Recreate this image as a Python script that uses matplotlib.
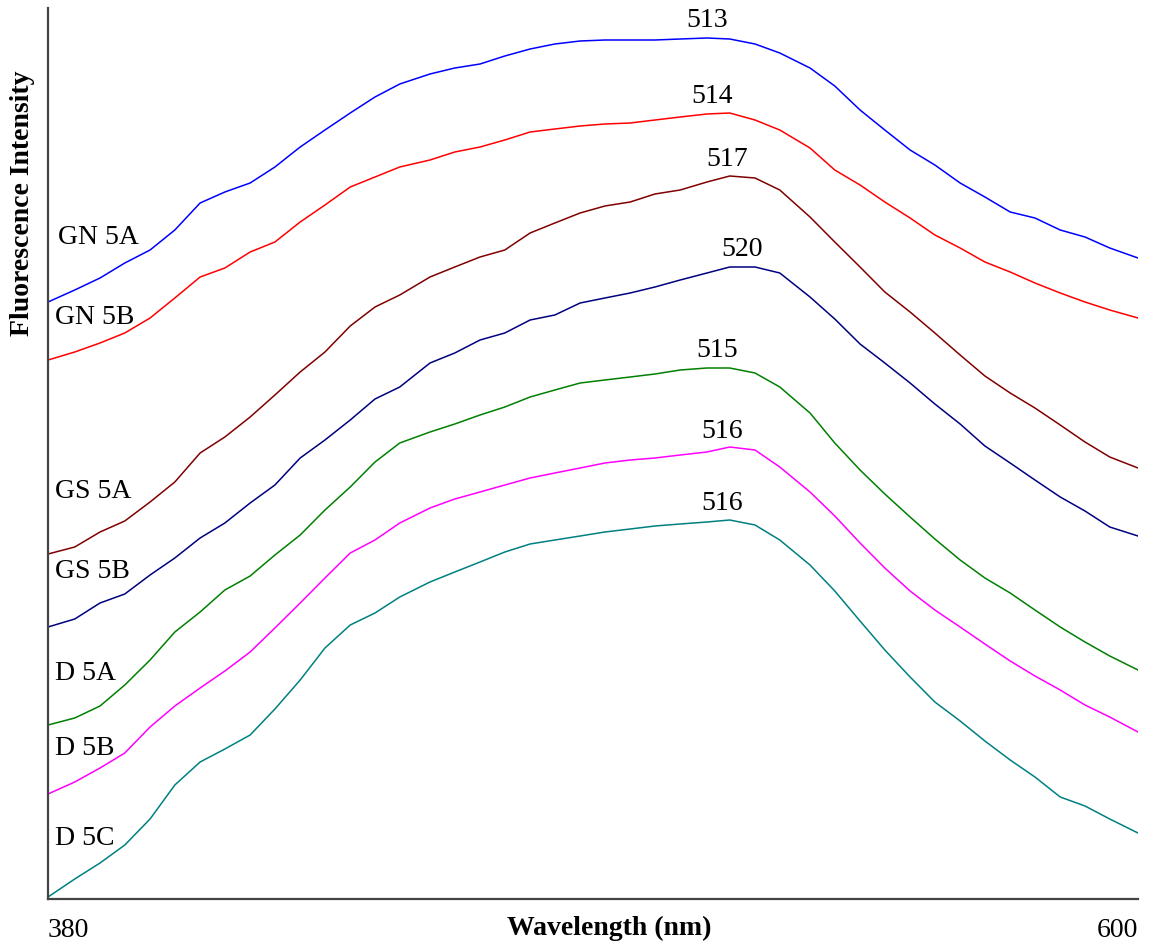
import numpy as np
import matplotlib
matplotlib.use("Agg")
import matplotlib.pyplot as plt
import matplotlib.transforms as mtransforms

plt.rcParams['font.family'] = ['Liberation Serif', 'DejaVu Serif']

# Wavelength grid (nm)
wavelength = [380.0, 385.4, 390.5, 395.5, 400.6, 405.6, 410.7, 415.7, 420.8, 425.8,
              430.9, 435.9, 441.0, 446.0, 451.0, 457.1, 462.1, 467.2, 472.2, 477.3,
              482.3, 487.4, 492.4, 497.5, 502.5, 507.6, 513.0, 517.6, 522.7, 527.7,
              533.8, 538.8, 543.9, 548.9, 554.0, 559.0, 564.1, 569.1, 574.2, 579.2,
              584.3, 589.3, 594.3, 600.0]

# Fluorescence intensity (arbitrary units, offset spectra)
gn5a = [596, 608, 620, 635, 648, 668, 695, 706, 715, 731,
        751, 768, 785, 801, 814, 824, 830, 834, 842, 849,
        854, 857, 858, 858, 858, 859, 860, 859, 854, 845,
        830, 812, 788, 768, 748, 733, 715, 701, 686, 680,
        668, 661, 650, 640]
gn5b = [538, 546, 555, 565, 580, 600, 621, 630, 646, 656,
        676, 693, 711, 721, 731, 738, 746, 751, 758, 766,
        769, 772, 774, 775, 778, 781, 784, 785, 778, 768,
        750, 728, 713, 696, 680, 663, 650, 636, 626, 615,
        605, 596, 588, 580]
gs5a = [344, 351, 366, 377, 396, 416, 445, 461, 481, 503,
        526, 546, 572, 591, 603, 621, 631, 641, 648, 665,
        675, 685, 692, 696, 704, 708, 716, 722, 720, 708,
        681, 656, 631, 606, 586, 565, 543, 522, 505, 490,
        473, 456, 441, 430]
gs5b = [271, 279, 295, 304, 323, 340, 360, 375, 395, 413,
        440, 458, 478, 499, 511, 535, 545, 558, 565, 578,
        583, 595, 600, 605, 611, 618, 625, 631, 631, 625,
        601, 579, 554, 535, 515, 494, 474, 452, 435, 418,
        401, 387, 371, 362]
d5a = [173, 180, 192, 213, 238, 266, 286, 308, 322, 343,
       363, 388, 411, 436, 455, 466, 474, 483, 491, 501,
       508, 515, 518, 521, 524, 528, 530, 530, 525, 511,
       485, 455, 428, 404, 381, 359, 338, 320, 305, 288,
       271, 256, 242, 228]
d5b = [104, 116, 130, 145, 171, 192, 210, 227, 246, 270,
       295, 320, 345, 358, 375, 390, 399, 406, 413, 420,
       425, 430, 435, 438, 440, 443, 446, 451, 448, 431,
       406, 382, 355, 330, 307, 288, 271, 254, 237, 222,
       208, 193, 181, 166]
d5c = [1, 19, 35, 53, 79, 113, 136, 149, 163, 189,
       218, 250, 273, 285, 301, 316, 326, 336, 346, 354,
       358, 362, 366, 369, 372, 374, 376, 378, 373, 358,
       333, 307, 277, 248, 221, 196, 177, 157, 138, 121,
       101, 92, 79, 65]

series_names = ["GN 5A", "GN 5B", "GS 5A", "GS 5B", "D 5A", "D 5B", "D 5C"]
peak_labels = [513, 514, 517, 520, 515, 516, 516]
xtick_labels = ["380", "600"]

series = [gn5a, gn5b, gs5a, gs5b, d5a, d5b, d5c]
colors = ["#0000FF", "#FF0000", "#800000", "#000080", "#008000", "#FF00FF", "#008080"]
name_y = [660, 581, 406, 326, 225, 150, 60]
name_x = [382, 381.4, 381.4, 381.4, 381.4, 381.4, 381.4]

W, H = 1153, 947
fig = plt.figure(figsize=(W / 100, H / 100), dpi=100)
ax = fig.add_axes([48 / W, (H - 899) / H, (1138 - 48) / W, (899 - 8) / H])

for vals, col, pk in zip(series, colors, peak_labels):
    ax.plot(wavelength, vals, color=col, lw=1.1)
    yp = np.interp(pk, wavelength, vals)
    ax.annotate(str(pk), xy=(pk, yp), xytext=(0, 12.5), textcoords='offset points',
                ha='center', va='center', fontsize=20)

for nm, nx, ny in zip(series_names, name_x, name_y):
    ax.text(nx, ny, nm, ha='left', va='center', fontsize=20)

ax.set_xlim(380, 600)
ax.set_ylim(-1, 890)
ax.set_xticks([])
ax.set_yticks([])
for s in ['top', 'right']:
    ax.spines[s].set_visible(False)
for s in ['left', 'bottom']:
    ax.spines[s].set_color('#444444')
    ax.spines[s].set_linewidth(1.6)

trans = mtransforms.blended_transform_factory(ax.transData, fig.transFigure)
ax.text(380, 1 - 930 / H, xtick_labels[0], transform=trans, ha='left', va='center', fontsize=20)
ax.text(600, 1 - 930 / H, xtick_labels[1], transform=trans, ha='right', va='center', fontsize=20)

fig.text(609 / W, 1 - 928 / H, "Wavelength (nm)", ha='center', va='center',
         fontsize=20, fontweight='bold')
fig.text(23 / W, 1 - 203 / H, "Fluorescence Intensity", ha='center', va='center',
         rotation=90, fontsize=20, fontweight='bold')

fig.savefig("out.png", dpi=100)
